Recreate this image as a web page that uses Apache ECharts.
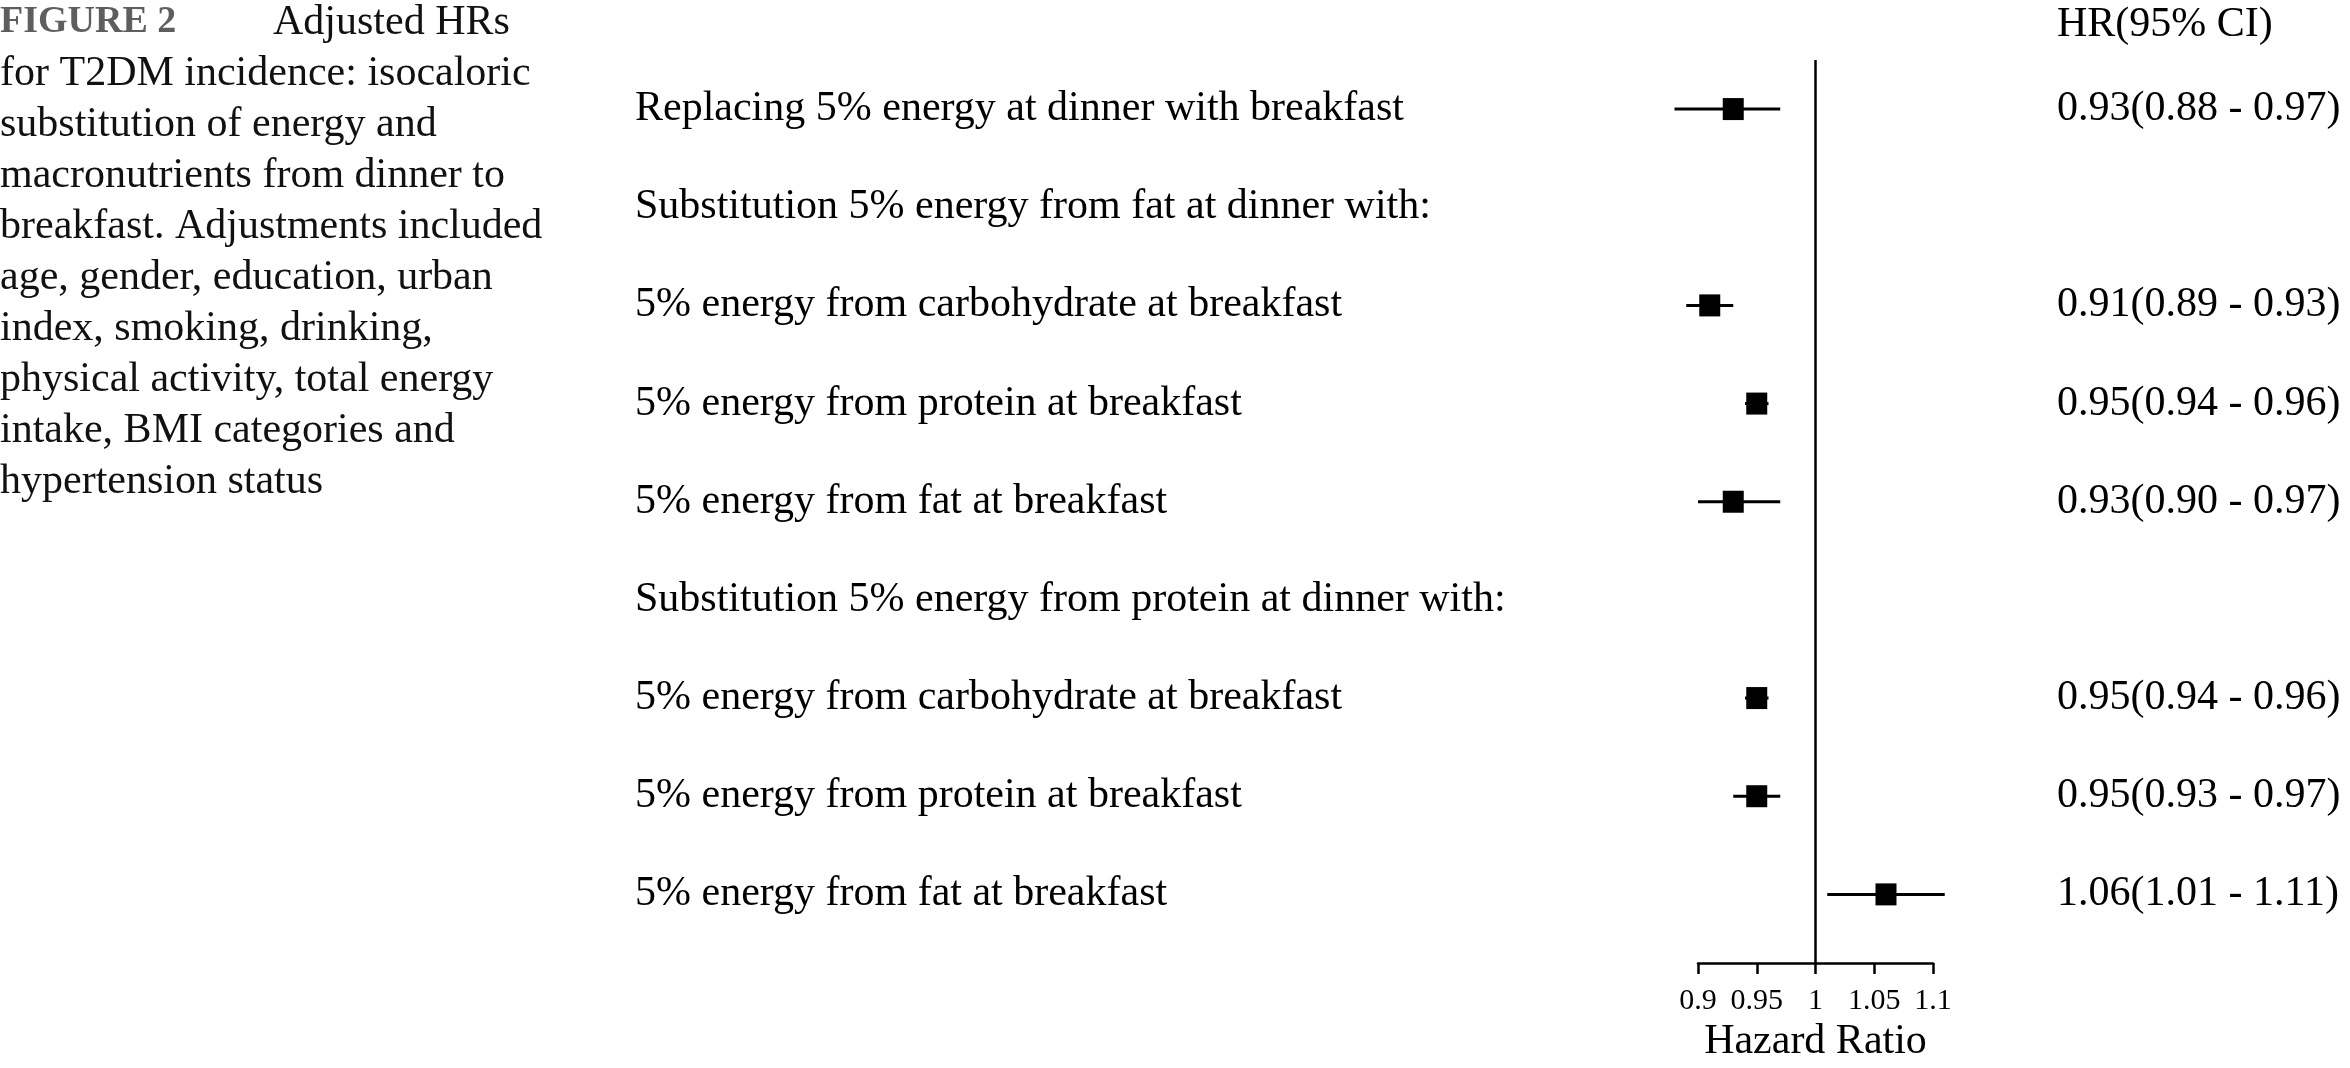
<!DOCTYPE html>
<html>
<head>
<meta charset="utf-8">
<script src="https://cdn.jsdelivr.net/npm/echarts@6/dist/echarts.min.js"></script>
<style>
  html, body { margin: 0; padding: 0; background: #fff; }
  #main { width: 2350px; height: 1068px; }
</style>
</head>
<body>
<div id="main"></div>
<script>
// rows, top to bottom; headers carry no estimate
const rowLabels = [
  'Replacing 5% energy at dinner with breakfast',
  'Substitution 5% energy from fat at dinner with:',
  '5% energy from carbohydrate at breakfast',
  '5% energy from protein at breakfast',
  '5% energy from fat at breakfast',
  'Substitution 5% energy from protein at dinner with:',
  '5% energy from carbohydrate at breakfast',
  '5% energy from protein at breakfast',
  '5% energy from fat at breakfast'
];
const hr    = [0.93, null, 0.91, 0.95, 0.93, null, 0.95, 0.95, 1.06];
const lower = [0.88, null, 0.89, 0.94, 0.90, null, 0.94, 0.93, 1.01];
const upper = [0.97, null, 0.93, 0.96, 0.97, null, 0.96, 0.97, 1.11];
const refValue = 1;
const xMin = 0.9, xMax = 1.1, xStep = 0.05;

const captionLines = [
  'for T2DM incidence: isocaloric',
  'substitution of energy and',
  'macronutrients from dinner to',
  'breakfast. Adjustments included',
  'age, gender, education, urban',
  'index, smoking, drinking,',
  'physical activity, total energy',
  'intake, BMI categories and',
  'hypertension status'
];

const serif = '"Liberation Serif", "Times New Roman", serif';

var ciData = [];
var pointData = [];
for (var i = 0; i < rowLabels.length; i++) {
  if (hr[i] == null) continue;
  ciData.push([i, hr[i], lower[i], upper[i]]);
  pointData.push([hr[i], i]);
}

function ciText(i) {
  if (hr[i] == null) return '';
  return hr[i].toFixed(2) + '(' + lower[i].toFixed(2) + ' - ' + upper[i].toFixed(2) + ')';
}

var captionText = '{fig|FIGURE 2}{t|Adjusted HRs}\n' +
  captionLines.map(function (l) { return '{t|' + l + '}'; }).join('\n');

var chart = echarts.init(document.getElementById('main'));

var option = {
  backgroundColor: '#fff',
  animation: false,
  title: [
    {
      text: captionText,
      left: 0,
      top: -3,
      padding: 0,
      textStyle: {
        fontWeight: 'normal',
        rich: {
          fig: { fontFamily: serif, fontSize: 38, fontWeight: 'bold', color: '#5e5e5e', width: 273, lineHeight: 51 },
          t: { fontFamily: serif, fontSize: 42, fontWeight: 'normal', color: '#111', lineHeight: 51 }
        }
      }
    },
    {
      text: 'HR(95% CI)',
      left: 2057,
      top: 0,
      padding: 0,
      textStyle: { fontFamily: serif, fontSize: 42, fontWeight: 'normal', color: '#000', lineHeight: 50 }
    }
  ],
  grid: { left: 1698, right: 417, top: 60, bottom: 94 },
  xAxis: {
    type: 'value',
    min: xMin,
    max: xMax,
    interval: xStep,
    position: 'bottom',
    name: 'Hazard Ratio',
    nameLocation: 'middle',
    nameGap: 56,
    nameTextStyle: { fontFamily: serif, fontSize: 42, color: '#000' },
    axisLine: { show: true, onZero: false, lineStyle: { color: '#000', width: 2.5 } },
    axisTick: { show: true, inside: false, length: 11, lineStyle: { color: '#000', width: 2.5 } },
    axisLabel: { fontFamily: serif, fontSize: 30, color: '#000', margin: 23 },
    splitLine: { show: false }
  },
  yAxis: [
    {
      type: 'value',
      inverse: true,
      min: -0.5,
      max: 8.7,
      interval: 0.5,
      position: 'left',
      axisLine: { show: false },
      axisTick: { show: false },
      splitLine: { show: false },
      axisLabel: {
        align: 'left',
        margin: 1063,
        fontFamily: serif,
        fontSize: 42,
        color: '#000',
        formatter: function (v) {
          var k = Math.round(v);
          return (Math.abs(v - k) < 1e-6 && rowLabels[k] != null) ? rowLabels[k] : '';
        }
      }
    },
    {
      type: 'value',
      inverse: true,
      min: -0.5,
      max: 8.7,
      interval: 0.5,
      position: 'right',
      axisLine: { show: false },
      axisTick: { show: false },
      splitLine: { show: false },
      axisLabel: {
        align: 'left',
        margin: 124,
        fontFamily: serif,
        fontSize: 42,
        color: '#000',
        formatter: function (v) {
          var k = Math.round(v);
          return (Math.abs(v - k) < 1e-6 && k >= 0 && k < rowLabels.length) ? ciText(k) : '';
        }
      }
    }
  ],
  series: [
    {
      type: 'custom',
      name: 'CI',
      clip: false,
      silent: true,
      data: ciData,
      encode: { x: [1, 2, 3], y: 0 },
      renderItem: function (params, api) {
        var y = api.value(0);
        var p1 = api.coord([api.value(2), y]);
        var p2 = api.coord([api.value(3), y]);
        return {
          type: 'line',
          shape: { x1: p1[0], y1: p1[1], x2: p2[0], y2: p2[1] },
          style: { stroke: '#000', lineWidth: 3 }
        };
      },
      z: 2
    },
    {
      type: 'scatter',
      name: 'HR',
      clip: false,
      silent: true,
      symbol: 'rect',
      symbolSize: [21, 22],
      itemStyle: { color: '#000', opacity: 1 },
      data: pointData,
      z: 3,
      markLine: {
        silent: true,
        symbol: ['none', 'none'],
        label: { show: false },
        lineStyle: { color: '#000', width: 2.5, type: 'solid', opacity: 1 },
        data: [{ xAxis: refValue }]
      }
    }
  ]
};

chart.setOption(option);
</script>
</body>
</html>
